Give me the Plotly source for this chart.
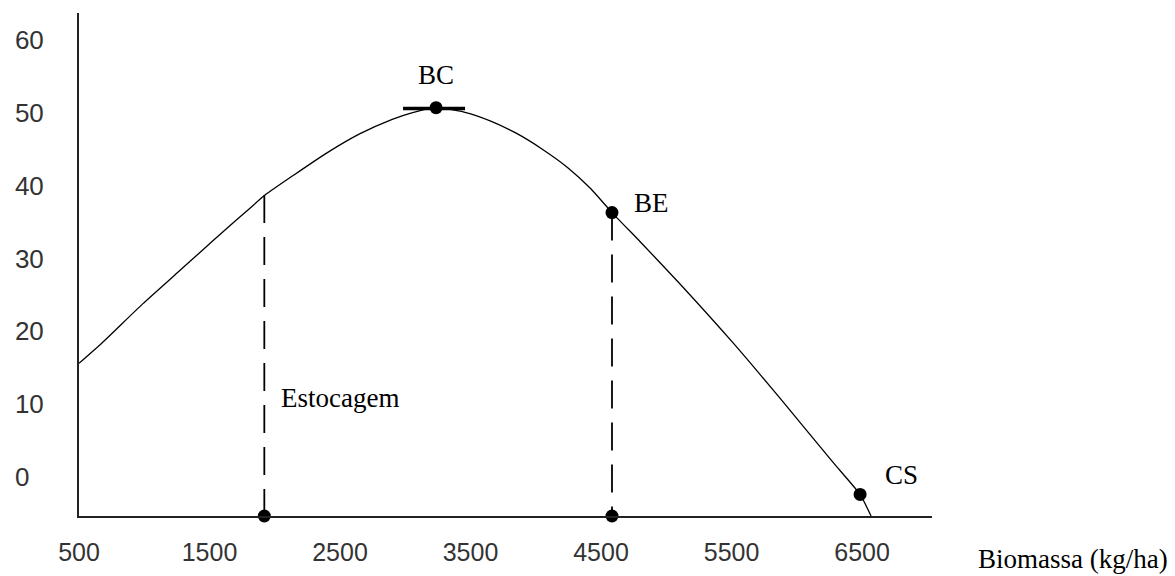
import plotly.graph_objects as go

# curva de produção (biomassa kg/ha x taxa)
curve_x = [500, 676, 990, 1251, 1450, 1580, 1810, 1925, 2150, 2400, 2650, 2900, 3050,
           3236, 3450, 3650, 3850, 4050, 4250, 4420, 4584, 4800, 5100, 5512, 5895,
           6278, 6485, 6569]
curve_y = [15.6, 18.4, 23.8, 28.0, 31.2, 33.3, 36.9, 38.7, 41.5, 44.5, 47.1, 49.1, 50.0,
           50.7, 50.1, 48.9, 47.2, 45.0, 42.4, 39.6, 36.3, 32.3, 26.6, 18.4, 10.3,
           2.0, -2.4, -5.36]

# pontos marcados
pt_labels = ["BC", "BE", "CS"]
pt_x = [3236, 4584, 6485]
pt_y = [50.7, 36.3, -2.4]

# linhas tracejadas (estocagem e BE) até o eixo
drop_x = [1920, 4584]
drop_top = [38.7, 36.3]
y_base = -5.36

# trecho engrossado em BC
bc_seg_x = [2983, 3458]
bc_seg_y = [50.6, 50.6]

x_ticks = [500, 1500, 2500, 3500, 4500, 5500, 6500]
y_ticks = [0, 10, 20, 30, 40, 50, 60]
y_ticktext = ["0\u00a0\u00a0", "10", "20", "30", "40", "50", "60"]

SERIF = "Liberation Serif, Times New Roman, serif"
SANS = "Liberation Sans, Arial, sans-serif"

fig = go.Figure()
fig.add_trace(go.Scatter(x=curve_x, y=curve_y, mode="lines",
                         line=dict(color="black", width=1.3, shape="spline", smoothing=0.5)))
fig.add_trace(go.Scatter(x=bc_seg_x, y=bc_seg_y, mode="lines",
                         line=dict(color="black", width=3.5)))
for dx, dt in zip(drop_x, drop_top):
    fig.add_trace(go.Scatter(x=[dx, dx], y=[dt, y_base], mode="lines",
                             line=dict(color="black", width=1.8, dash="28px,14px")))
fig.add_trace(go.Scatter(x=pt_x + drop_x, y=pt_y + [y_base] * len(drop_x), mode="markers",
                         marker=dict(color="black", size=13), cliponaxis=False))

# rótulos
offsets = {"BC": (0, 33, "center"), "BE": (20, 10, "left"), "CS": (23, 19, "left")}
for lab, px, py in zip(pt_labels, pt_x, pt_y):
    xs, ys, anc = offsets[lab]
    fig.add_annotation(x=px, y=py, text=lab, showarrow=False, xanchor=anc,
                       xshift=xs, yshift=ys, font=dict(family=SERIF, size=27, color="black"))
fig.add_annotation(x=drop_x[0], y=10.8, text="Estocagem", showarrow=False, xanchor="left",
                   xshift=15, font=dict(family=SERIF, size=27, color="black"))
fig.add_annotation(xref="paper", yref="paper", x=1.052, y=-0.085, text="Biomassa (kg/ha)",
                   showarrow=False, xanchor="left", yanchor="middle",
                   font=dict(family=SERIF, size=27, color="black"))

# a página tem margem de 8px no body: figura um pouco menor que a janela
fig.update_layout(
    width=1167, height=568, showlegend=False,
    paper_bgcolor="white", plot_bgcolor="white",
    margin=dict(l=71, r=243, t=5, b=60),
    hovermode=False,
)
fig.update_xaxes(range=[500, 7036], tickvals=x_ticks, showgrid=False, zeroline=False,
                 showline=True, linecolor="#222", linewidth=2, ticks="", automargin=False,
                 ticklabelstandoff=13, tickfont=dict(family=SANS, size=25, color="#333"))
fig.update_yaxes(range=[y_base, 63.7], tickvals=y_ticks, ticktext=y_ticktext,
                 showgrid=False, zeroline=False, showline=True, linecolor="#222",
                 linewidth=2, ticks="", ticklabelstandoff=28, automargin=False,
                 tickfont=dict(family=SANS, size=26, color="#333"))

fig.write_html("out.html")
